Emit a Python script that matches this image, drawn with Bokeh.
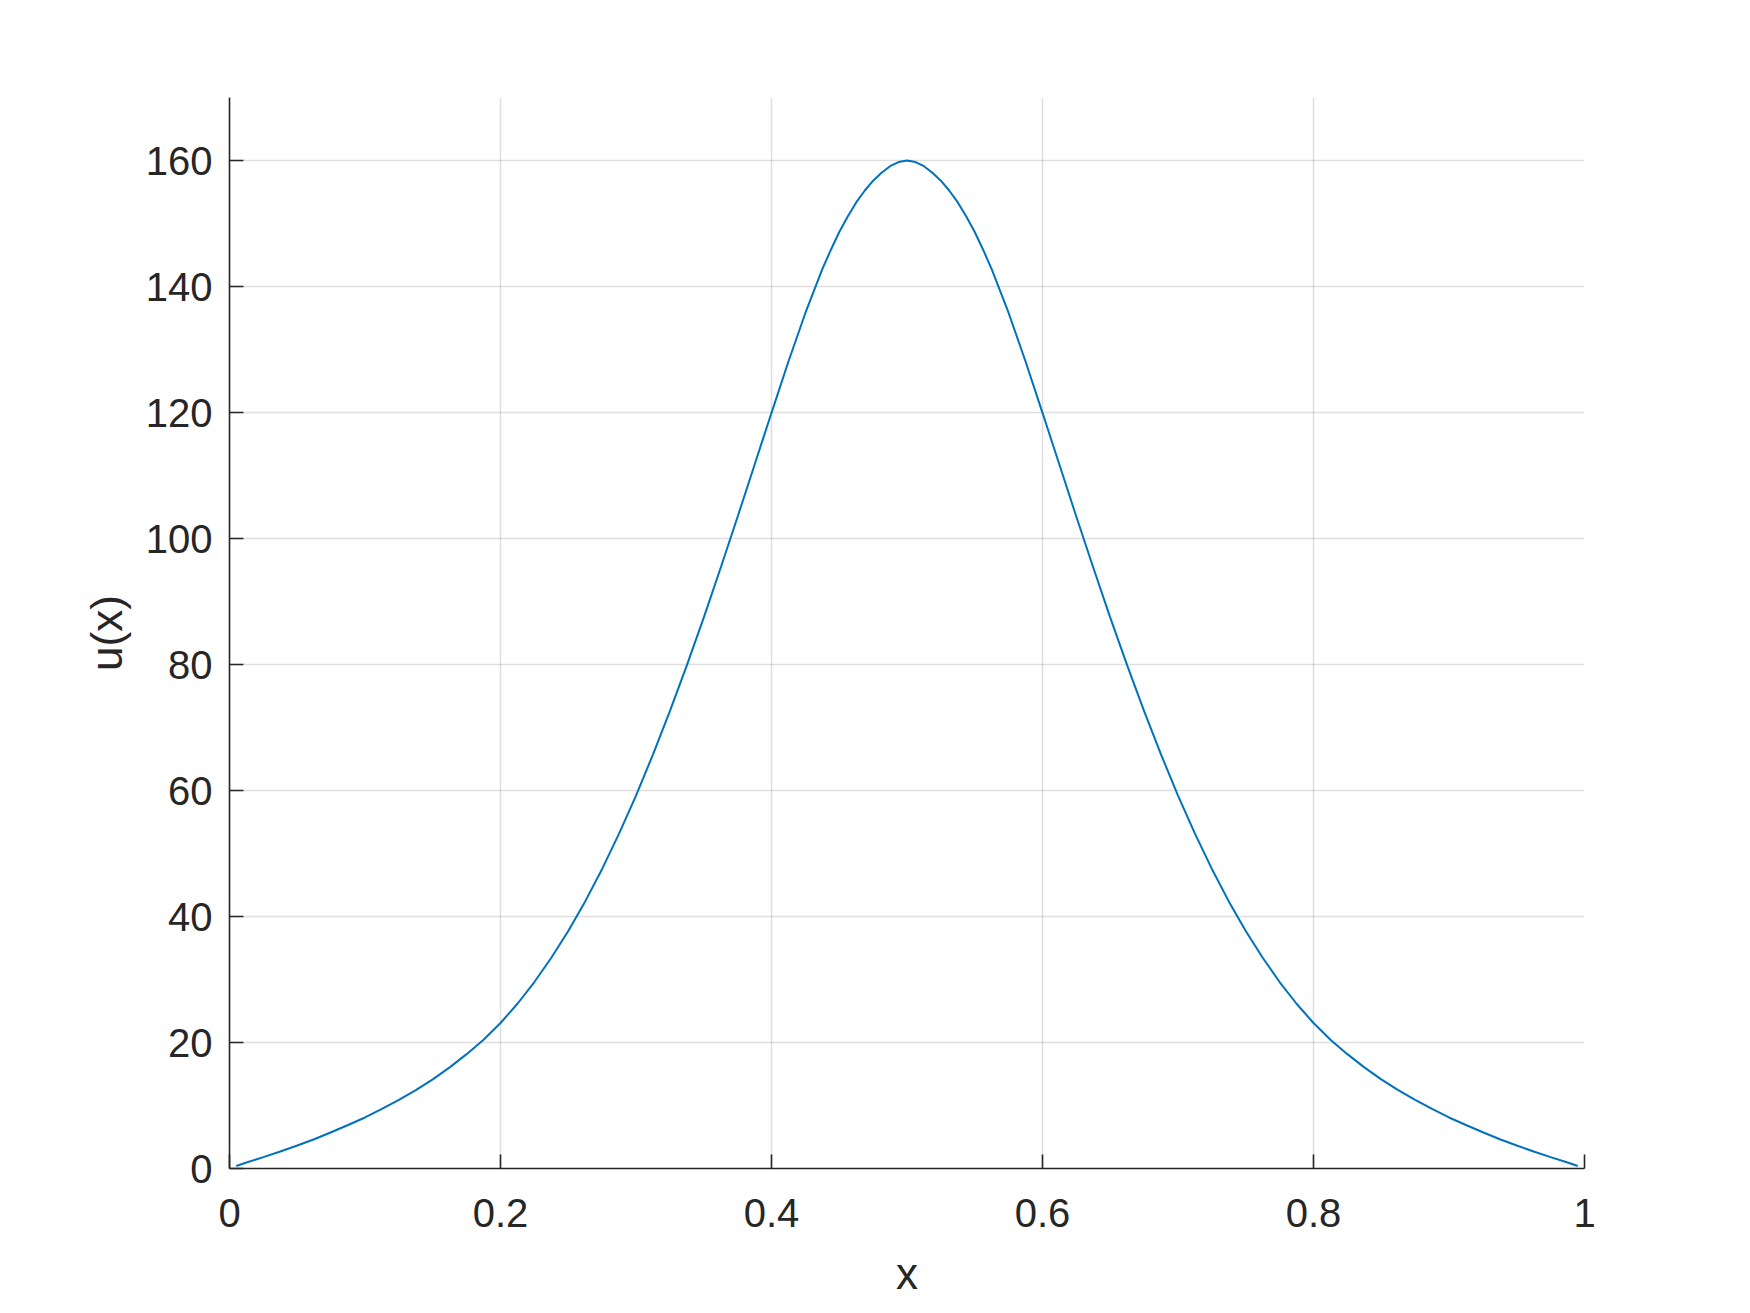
from bokeh.plotting import figure
from bokeh.models import Range1d, FixedTicker, ColumnDataSource
from bokeh.embed import file_html
from bokeh.resources import INLINE

x_vals = [0.005, 0.0125, 0.025, 0.0375, 0.05, 0.0625, 0.075, 0.0875, 0.1, 0.1125,
          0.125, 0.1375, 0.15, 0.1625, 0.175, 0.1875, 0.2, 0.2125, 0.225, 0.2375,
          0.25, 0.2625, 0.275, 0.2875, 0.3, 0.3125, 0.325, 0.3375, 0.35, 0.3625,
          0.375, 0.3875, 0.4, 0.4125, 0.425, 0.4375, 0.44375, 0.45, 0.45625, 0.4625,
          0.46875, 0.475, 0.48125, 0.4875, 0.49375,
          0.5,
          0.50625, 0.5125, 0.51875, 0.525, 0.53125, 0.5375, 0.54375, 0.55, 0.55625,
          0.5625, 0.575, 0.5875, 0.6, 0.6125, 0.625,
          0.6375, 0.65, 0.6625, 0.675, 0.6875, 0.7, 0.7125, 0.725, 0.7375, 0.75,
          0.7625, 0.775, 0.7875, 0.8, 0.8125, 0.825, 0.8375, 0.85, 0.8625, 0.875,
          0.8875, 0.9, 0.9125, 0.925, 0.9375, 0.95, 0.9625, 0.975, 0.9875, 0.995]

u_vals = [0.4, 0.95, 1.8, 2.7, 3.65, 4.65, 5.75, 6.9, 8.1, 9.45,
          10.9, 12.45, 14.15, 16.05, 18.15, 20.45, 23.1, 26.15, 29.6, 33.45,
          37.7, 42.4, 47.55, 53.15, 59.2, 65.7, 72.6, 79.85, 87.45, 95.35,
          103.45, 111.7, 119.95, 128.1, 135.8, 142.75, 145.8, 148.65, 151.1, 153.35,
          155.2, 156.8, 158.05, 159.1, 159.75,
          160.0,
          159.75, 159.1, 158.05, 156.8, 155.2, 153.35, 151.1, 148.65, 145.8,
          142.75, 135.8, 128.1, 119.95, 111.7, 103.45,
          95.35, 87.45, 79.85, 72.6, 65.7, 59.2, 53.15, 47.55, 42.4, 37.7,
          33.45, 29.6, 26.15, 23.1, 20.45, 18.15, 16.05, 14.15, 12.45, 10.9,
          9.45, 8.1, 6.9, 5.75, 4.65, 3.65, 2.7, 1.8, 0.95, 0.4]

x_ticks = [0, 0.2, 0.4, 0.6, 0.8, 1]
x_tick_labels = {0: "0", 0.2: "0.2", 0.4: "0.4", 0.6: "0.6", 0.8: "0.8", 1: "1"}
y_ticks = [0, 20, 40, 60, 80, 100, 120, 140, 160]

AX = "#262626"
FONT = "Liberation Sans"

p = figure(frame_width=1355, frame_height=1071, output_backend="svg", toolbar_location=None,
           x_range=Range1d(0, 1), y_range=Range1d(0, 170),
           min_border_left=229, min_border_right=150,
           min_border_top=97, min_border_bottom=130)
p.outline_line_color = None
p.background_fill_color = "white"
p.border_fill_color = "white"

src = ColumnDataSource(data=dict(x=x_vals, u=u_vals))
p.line("x", "u", source=src, line_color="#0072BD", line_width=2)

for ax in (p.xaxis[0], p.yaxis[0]):
    ax.axis_line_color = AX
    ax.axis_line_width = 1.6
    ax.major_tick_line_color = AX
    ax.major_tick_line_width = 1.6
    ax.major_tick_in = 14
    ax.major_tick_out = 0
    ax.minor_tick_line_color = None
    ax.major_label_text_font = FONT
    ax.major_label_text_font_size = "40px"
    ax.major_label_text_color = AX
    ax.axis_label_text_font = FONT
    ax.axis_label_text_font_size = "44px"
    ax.axis_label_text_font_style = "normal"
    ax.axis_label_text_color = AX

p.xaxis[0].ticker = FixedTicker(ticks=x_ticks)
p.xaxis[0].major_label_overrides = x_tick_labels
p.xaxis[0].major_label_standoff = 30
p.xaxis[0].axis_label = "x"
p.xaxis[0].axis_label_standoff = 19

p.yaxis[0].ticker = FixedTicker(ticks=y_ticks)
p.yaxis[0].major_label_standoff = 17
p.yaxis[0].axis_label = "u(x)"
p.yaxis[0].axis_label_standoff = 12

p.xgrid[0].ticker = FixedTicker(ticks=x_ticks)
p.ygrid[0].ticker = FixedTicker(ticks=y_ticks)
for g in (p.xgrid[0], p.ygrid[0]):
    g.grid_line_color = AX
    g.grid_line_alpha = 0.15
    g.grid_line_width = 1.5

open("out.html", "w").write(file_html(p, INLINE))
